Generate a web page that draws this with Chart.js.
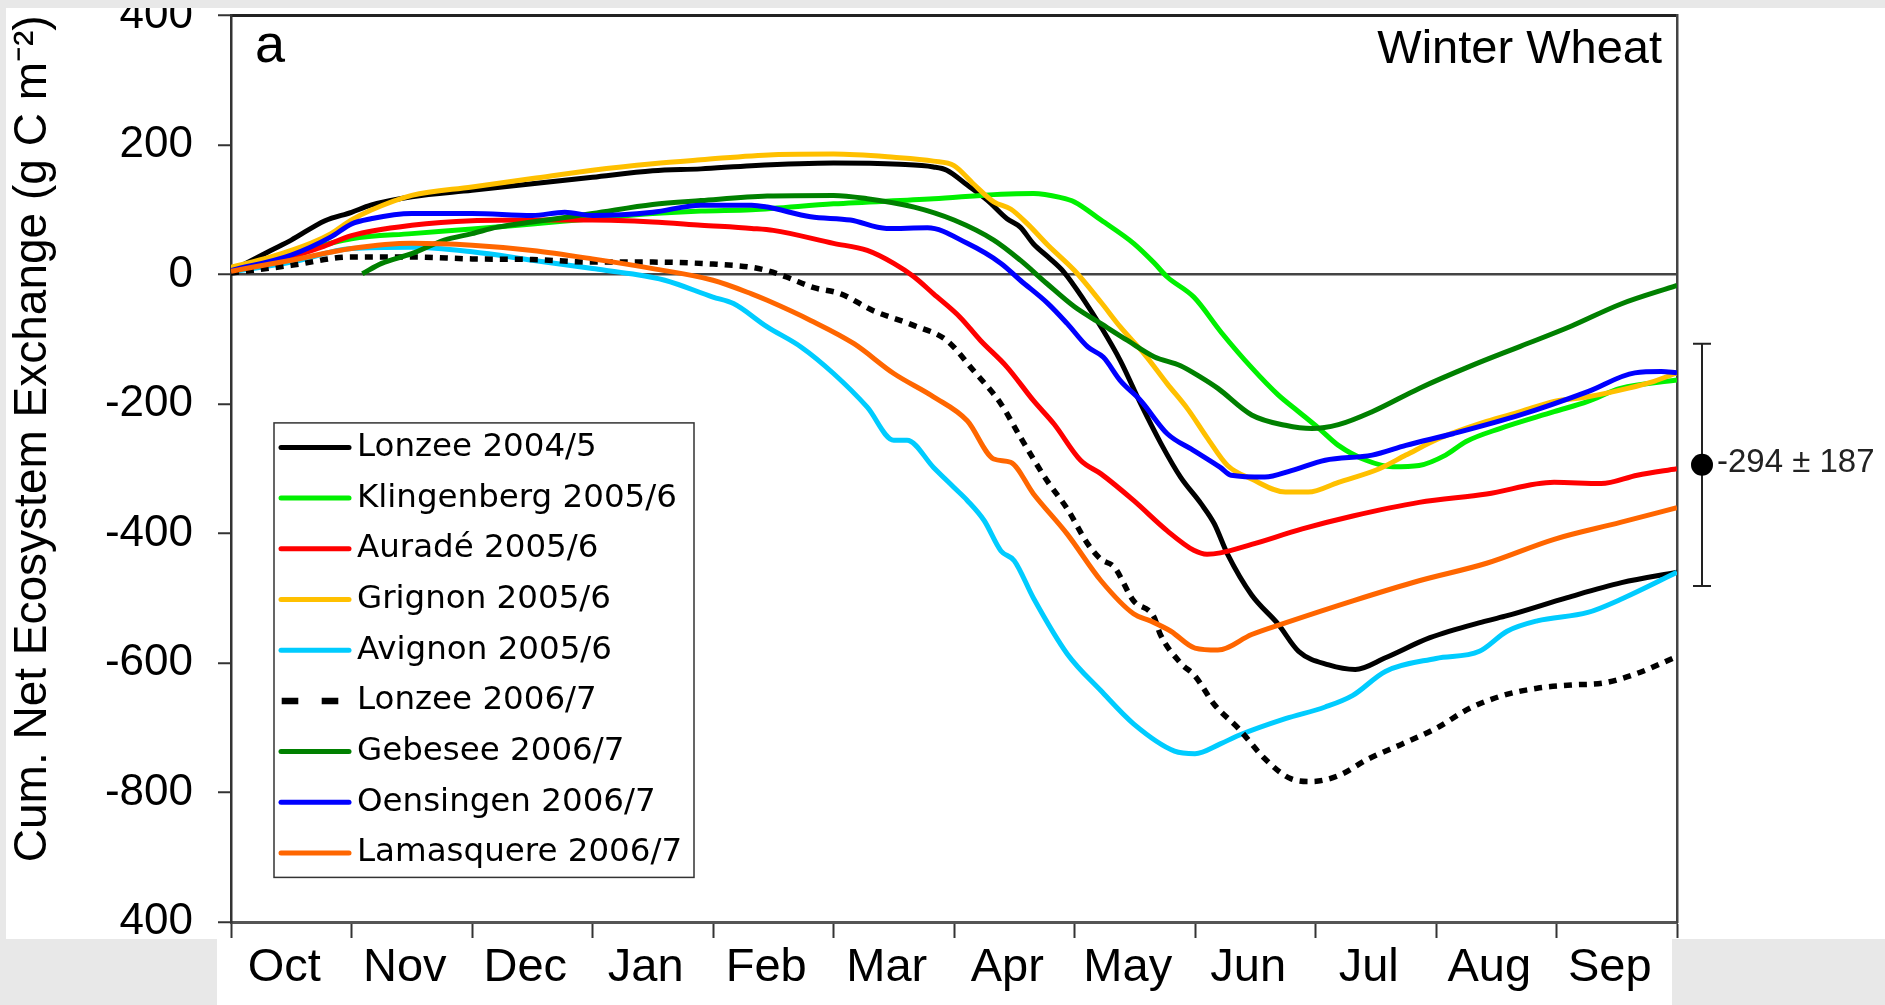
<!DOCTYPE html>
<html><head><meta charset="utf-8">
<script src="https://cdn.jsdelivr.net/npm/chart.js@4.4.1/dist/chart.umd.min.js"></script>
<style>
html,body{margin:0;padding:0;background:#fff;width:1885px;height:1005px;overflow:hidden;position:relative}
#c{position:absolute;left:0;top:-36px}
.g{position:absolute;background:#e8e8e8;z-index:2}
</style></head><body>
<canvas id="c" width="1885" height="1041"></canvas>
<div class="g" style="left:0;top:0;width:1885px;height:8px"></div>
<div class="g" style="left:0;top:0;width:6px;height:1005px"></div>
<div class="g" style="left:0;top:939px;width:217px;height:66px"></div>
<div class="g" style="left:1672px;top:939px;width:213px;height:66px"></div>
<script>
// ---------- data ----------
const months = ['Oct','Nov','Dec','Jan','Feb','Mar','Apr','May','Jun','Jul','Aug','Sep'];
const yTickValues = [400,200,0,-200,-400,-600,-800,-1000];
const yTickLabels = ['400','200','0','-200','-400','-600','-800','400'];
const yTitle = 'Cum. Net Ecosystem Exchange (g C m\u207B\u00B2)';
const panelLetter = 'a';
const cropName = 'Winter Wheat';
const errMean = -294;
const errSd = 187;
const errLabel = '-294 \u00B1 187';

const seriesNames = ['Lonzee 2004/5','Klingenberg 2005/6','Aurad\u00E9 2005/6','Grignon 2005/6','Avignon 2005/6','Lonzee 2006/7','Gebesee 2006/7','Oensingen 2006/7','Lamasquere 2006/7'];

// [month since 1 Oct, cumulative NEE]
const lonzee0405 = [[0,5],[0.33,37],[0.5,53],[0.78,83],[1.0,96],[1.16,107],[1.5,120],[2,130],[2.5,140],[3,150],[3.5,160],[3.9,163],[4.32,168],[5.0,172],[5.55,170],[5.83,166],[5.94,161],[6.11,138],[6.28,114],[6.44,86],[6.55,73],[6.66,47],[6.78,27],[6.91,4],[7.08,-40],[7.22,-81],[7.38,-133],[7.55,-200],[7.72,-262],[7.88,-313],[8.05,-354],[8.16,-385],[8.27,-432],[8.47,-495],[8.69,-540],[8.86,-582],[9.11,-603],[9.33,-610],[9.58,-592],[9.95,-561],[10.42,-535],[10.59,-527],[11.09,-499],[11.54,-476],[12,-460]];
const klingenberg0506 = [[0,7],[0.5,32],[1.0,55],[1.5,63],[2,70],[2.5,78],[3,86],[3.5,94],[3.9,98],[4.32,100],[5.0,109],[5.83,117],[6.39,124],[6.66,125],[6.88,119],[7.0,112],[7.22,84],[7.49,48],[7.66,18],[7.77,-4],[7.99,-35],[8.22,-90],[8.47,-144],[8.69,-186],[8.86,-212],[9.03,-238],[9.19,-264],[9.42,-287],[9.64,-297],[9.86,-295],[10.08,-279],[10.25,-258],[10.53,-238],[10.98,-212],[11.26,-196],[11.53,-176],[12,-163]];
const aurade0506 = [[0,7],[0.5,27],[0.75,42],[1.0,60],[1.5,76],[2,83],[2.5,84],[3,84],[3.5,81],[3.9,76],[4.32,71],[4.5,68],[5.0,48],[5.28,37],[5.5,17],[5.67,-4],[5.83,-30],[6.05,-66],[6.22,-102],[6.44,-143],[6.66,-195],[6.83,-231],[7.05,-287],[7.22,-308],[7.49,-349],[7.77,-396],[7.99,-426],[8.1,-432],[8.21,-430],[8.47,-417],[8.89,-393],[9.31,-373],[9.86,-352],[10.42,-339],[10.98,-321],[11.37,-323],[11.67,-310],[12,-300]];
const grignon0506 = [[0,11],[0.33,27],[0.66,48],[0.83,63],[1.0,84],[1.16,99],[1.5,122],[2,135],[2.5,148],[3,161],[3.5,171],[3.9,177],[4.5,185],[5.0,186],[5.5,181],[5.83,175],[6.0,168],[6.16,140],[6.33,112],[6.47,101],[6.61,78],[6.78,45],[7.0,6],[7.22,-43],[7.38,-81],[7.58,-123],[7.77,-169],[7.94,-208],[8.1,-252],[8.27,-295],[8.47,-316],[8.75,-336],[8.94,-336],[9.19,-321],[9.53,-300],[9.75,-279],[10.03,-253],[10.42,-227],[10.7,-212],[10.98,-196],[11.26,-189],[11.59,-176],[11.81,-165],[12,-152]];
const avignon0506 = [[0,4],[0.5,19],[1.0,40],[1.5,42],[2,35],[2.5,22],[3,9],[3.32,1],[3.6,-9],[4.0,-35],[4.17,-45],[4.45,-81],[4.73,-112],[5.0,-153],[5.28,-205],[5.5,-256],[5.61,-256],[5.83,-298],[6.0,-329],[6.11,-349],[6.25,-380],[6.39,-427],[6.5,-442],[6.66,-500],[6.94,-586],[7.22,-643],[7.49,-694],[7.83,-736],[8.0,-740],[8.21,-725],[8.36,-712],[8.75,-686],[9.08,-668],[9.31,-650],[9.58,-613],[10.0,-593],[10.36,-582],[10.59,-551],[10.84,-535],[11.26,-522],[11.53,-502],[12,-460]];
const lonzee0607 = [[0,2],[0.5,14],[1.0,27],[1.5,27],[2,24],[2.5,23],[3,19],[3.5,19],[4.0,16],[4.32,11],[4.45,6],[4.61,-4],[4.83,-20],[5.06,-30],[5.33,-56],[5.67,-79],[5.94,-102],[6.16,-148],[6.39,-200],[6.55,-251],[6.77,-318],[6.94,-362],[7.11,-416],[7.22,-440],[7.33,-452],[7.49,-504],[7.66,-529],[7.71,-555],[7.88,-600],[8.0,-620],[8.16,-664],[8.36,-701],[8.58,-748],[8.8,-779],[8.97,-783],[9.19,-774],[9.44,-748],[9.72,-725],[10.0,-701],[10.28,-670],[10.56,-650],[10.84,-639],[11.12,-634],[11.39,-631],[11.67,-616],[12,-590]];
const gebesee0607 = [[1.09,1],[1.25,17],[1.5,32],[1.77,53],[2,63],[2.21,73],[2.5,81],[3,94],[3.5,108],[3.9,114],[4.45,121],[5.0,122],[5.28,117],[5.67,104],[6.0,84],[6.33,53],[6.55,22],[6.77,-14],[7.0,-50],[7.22,-76],[7.44,-102],[7.66,-127],[7.88,-141],[8.05,-159],[8.19,-176],[8.47,-217],[8.75,-233],[8.97,-238],[9.19,-232],[9.47,-212],[9.86,-176],[10.28,-142],[10.7,-111],[11.12,-80],[11.53,-46],[12,-17]];
const oensingen0607 = [[0,6],[0.5,30],[0.83,58],[1.0,78],[1.16,86],[1.5,94],[2,94],[2.5,91],[2.77,96],[3,91],[3.5,96],[3.9,107],[4.32,107],[4.45,104],[4.81,89],[5.14,84],[5.44,71],[5.78,72],[6.11,48],[6.39,17],[6.55,-9],[6.78,-45],[6.94,-76],[7.11,-112],[7.24,-128],[7.38,-164],[7.55,-195],[7.77,-246],[7.99,-272],[8.21,-298],[8.3,-310],[8.58,-313],[8.8,-303],[9.08,-287],[9.47,-279],[9.75,-264],[10.14,-246],[10.7,-217],[11.26,-181],[11.65,-152],[11.87,-150],[12,-152]];
const lamasquere0607 = [[0,5],[0.5,22],[1.0,40],[1.5,48],[2,45],[2.5,37],[3,24],[3.5,9],[4.0,-9],[4.32,-30],[4.45,-40],[4.81,-71],[5.17,-107],[5.5,-153],[5.83,-189],[6.11,-226],[6.33,-285],[6.47,-290],[6.66,-339],[6.94,-401],[7.22,-473],[7.49,-524],[7.63,-535],[7.8,-551],[8.0,-577],[8.19,-580],[8.47,-556],[8.75,-538],[9.31,-504],[9.86,-473],[10.42,-446],[10.98,-409],[11.53,-383],[12,-360]];

const seriesData = [lonzee0405, klingenberg0506, aurade0506, grignon0506, avignon0506, lonzee0607, gebesee0607, oensingen0607, lamasquere0607];

// ---------- styles ----------
const colors = ['#000000','#00f000','#ff0000','#ffc000','#00ccff','#000000','#008000','#0000ff','#ff6600'];
const dashed = [false,false,false,false,false,true,false,false,false];
const FONT = '"Liberation Sans", Arial, sans-serif';

const datasets = seriesData.map((d, i) => ({
  label: seriesNames[i],
  data: d.map(p => ({x: p[0], y: p[1]})),
  borderColor: colors[i],
  backgroundColor: colors[i],
  borderWidth: dashed[i] ? 5.5 : 5,
  borderDash: dashed[i] ? [8, 7] : [],
  pointRadius: 0,
  fill: false,
  cubicInterpolationMode: 'monotone',
  order: seriesData.length - i
}));

const annot = {
  id: 'annot',
  afterDraw(chart) {
    const ctx = chart.ctx, ca = chart.chartArea, ys = chart.scales.y;
    ctx.save();
    ctx.fillStyle = '#000';
    ctx.textBaseline = 'alphabetic';
    ctx.textAlign = 'left';
    ctx.font = '54px ' + FONT;
    ctx.fillText(panelLetter, ca.left + 24, ca.top + 46.5);
    ctx.textAlign = 'right';
    ctx.font = '47px ' + FONT;
    ctx.fillText(cropName, ca.right - 15, ca.top + 47.5);

    // error bar (mean ± sd) outside plot
    const ex = ca.right + 25;
    const yt = ys.getPixelForValue(errMean + errSd);
    const yb = ys.getPixelForValue(errMean - errSd);
    const ym = ys.getPixelForValue(errMean);
    ctx.strokeStyle = '#222'; ctx.lineWidth = 2;
    ctx.beginPath();
    ctx.moveTo(ex, yt); ctx.lineTo(ex, yb);
    ctx.moveTo(ex - 9, yt); ctx.lineTo(ex + 9, yt);
    ctx.moveTo(ex - 9, yb); ctx.lineTo(ex + 9, yb);
    ctx.stroke();
    ctx.fillStyle = '#000';
    ctx.beginPath(); ctx.arc(ex, ym, 11, 0, Math.PI * 2); ctx.fill();
    ctx.fillStyle = '#222';
    ctx.font = '33px ' + FONT;
    ctx.textAlign = 'left'; ctx.textBaseline = 'middle';
    ctx.fillText(errLabel, ex + 15, ym - 2);

    // legend box
    const lx = ca.left + 43, ly = ca.top + 407.5, lw = 420, lh = 454.5;
    ctx.fillStyle = '#fff';
    ctx.fillRect(lx, ly, lw, lh);
    ctx.strokeStyle = '#333'; ctx.lineWidth = 1.5;
    ctx.strokeRect(lx, ly, lw, lh);
    ctx.font = '32.5px "DejaVu Sans", Verdana, sans-serif';
    ctx.textBaseline = 'middle'; ctx.textAlign = 'left';
    chart.data.datasets.forEach((ds, i) => {
      const cy = ly + 24.5 + i * 50.7;
      ctx.strokeStyle = ds.borderColor;
      ctx.beginPath();
      if (ds.borderDash && ds.borderDash.length) {
        ctx.lineWidth = 6.5; ctx.lineCap = 'butt';
        ctx.setLineDash([16.6, 23.4]);
        ctx.moveTo(lx + 7.7, cy); ctx.lineTo(lx + 64.3, cy);
      } else {
        ctx.lineWidth = 5; ctx.lineCap = 'round';
        ctx.setLineDash([]);
        ctx.moveTo(lx + 7, cy); ctx.lineTo(lx + 75, cy);
      }
      ctx.stroke();
      ctx.setLineDash([]);
      ctx.fillStyle = '#000';
      ctx.fillText(ds.label, lx + 83, cy);
    });
    ctx.restore();
  }
};

new Chart(document.getElementById('c'), {
  type: 'line',
  data: { datasets },
  plugins: [annot],
  options: {
    responsive: false,
    devicePixelRatio: 1,
    animation: false,
    layout: { padding: { left: 0, top: 30.5, right: 208, bottom: 0 } },
    plugins: { legend: { display: false }, tooltip: { enabled: false } },
    scales: {
      x: {
        type: 'linear', position: 'bottom', min: 0, max: 12,
        afterFit(s) { s.height = 83; },
        ticks: {
          stepSize: 0.5, autoSkip: false, maxRotation: 0, minRotation: 0, padding: 2, labelOffset: -7,
          color: '#000', font: { family: FONT, size: 47 },
          callback: (v) => Number.isInteger(v) ? '' : months[Math.floor(v)]
        },
        grid: {
          drawOnChartArea: false, drawTicks: true, tickLength: 16, tickWidth: 2,
          tickColor: (c) => (c.tick && Number.isInteger(c.tick.value)) ? '#333' : 'rgba(0,0,0,0)'
        },
        border: { display: true, color: '#555', width: 3 }
      },
      x2: {
        type: 'linear', position: 'top', min: 0, max: 12,
        afterFit(s) { s.height = 0; },
        ticks: { display: false },
        grid: { drawOnChartArea: false, drawTicks: false },
        border: { display: true, color: '#222', width: 3 }
      },
      y: {
        type: 'linear', position: 'left', min: -1000, max: 400,
        afterFit(s) { s.width = 231; },
        afterBuildTicks(s) { s.ticks = yTickValues.map(v => ({ value: v })); },
        ticks: {
          padding: 25, color: '#000', font: { family: FONT, size: 44 },
          callback: (v) => { const k = yTickValues.indexOf(v); return k >= 0 ? yTickLabels[k] : ''; }
        },
        grid: {
          drawOnChartArea: true, drawTicks: true, tickLength: 13, tickWidth: 2, tickColor: '#333',
          lineWidth: 2.5,
          color: (c) => (c.tick && c.tick.value === 0) ? '#444' : 'rgba(0,0,0,0)'
        },
        border: { display: true, color: '#333', width: 2.5 },
        title: {
          display: true, text: yTitle, align: 'end', color: '#000',
          font: { family: FONT, size: 46 }, padding: { top: 6, bottom: 0 }
        }
      },
      y2: {
        type: 'linear', position: 'right', min: -1000, max: 400,
        afterFit(s) { s.width = 0; },
        ticks: { display: false },
        grid: { drawOnChartArea: false, drawTicks: false },
        border: { display: true, color: '#444', width: 2.5 }
      }
    }
  }
});
</script></body></html>
